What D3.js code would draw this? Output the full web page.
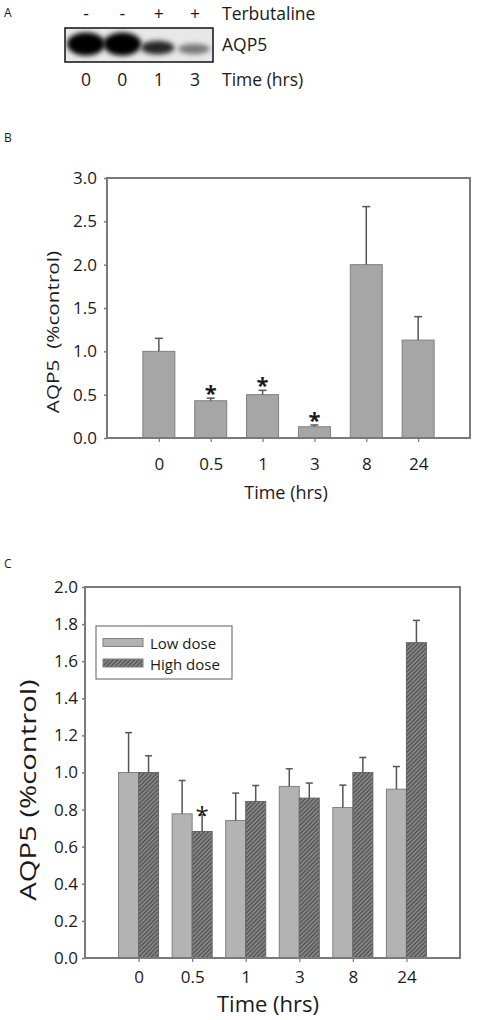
<!DOCTYPE html>
<html><head><meta charset="utf-8">
<script src="https://cdn.jsdelivr.net/npm/d3@7"></script>
<style>body{margin:0;background:#fff;} svg{display:block;font-family:"Open Sans",sans-serif;}</style>
</head><body><svg id="c" width="478" height="1020"></svg>
<script>
// ---- data ----
const blotLanes = ["-", "-", "+", "+"];
const blotTimes = ["0", "0", "1", "3"];
const blotIntensity = [1.0, 0.97, 0.8, 0.4];
const blotBandHeight = [1.0, 1.0, 0.6, 0.45];

const categoriesB = ["0", "0.5", "1", "3", "8", "24"];
const valuesB = [1.0, 0.43, 0.50, 0.13, 2.0, 1.13];
const errorsB = [0.15, 0.03, 0.05, 0.02, 0.67, 0.27];
const starsB = [false, true, true, true, false, false];
const ticksB = [0, 0.5, 1.0, 1.5, 2.0, 2.5, 3.0];

const categoriesC = ["0", "0.5", "1", "3", "8", "24"];
const lowDose = [1.0, 0.777, 0.741, 0.925, 0.811, 0.91];
const lowErr = [0.215, 0.18, 0.148, 0.095, 0.121, 0.122];
const highDose = [1.0, 0.682, 0.844, 0.862, 1.0, 1.70];
const highErr = [0.09, 0.09, 0.086, 0.081, 0.081, 0.12];
const starsC = [false, true, false, false, false, false];
const seriesC = ["Low dose", "High dose"];
const ticksC = [0, 0.2, 0.4, 0.6, 0.8, 1.0, 1.2, 1.4, 1.6, 1.8, 2.0];

const svg = d3.select("#c");
const axisCol = "#7a7a7a";
const textCol = "#1a1a1a";
const defs = svg.append("defs");
defs.append("filter").attr("id","blur").attr("x","-50%").attr("y","-50%").attr("width","200%").attr("height","200%")
  .append("feGaussianBlur").attr("stdDeviation", 2.6);
const pat = defs.append("pattern").attr("id","hatch").attr("patternUnits","userSpaceOnUse")
  .attr("width",3).attr("height",3).attr("patternTransform","rotate(45)");
pat.append("rect").attr("width",3).attr("height",3).attr("fill","#8f8f8f");
pat.append("rect").attr("width",1.4).attr("height",3).attr("fill","#4d4d4d");

// ---- Panel A ----
svg.append("text").attr("x",4).attr("y",17).attr("font-size",12).attr("fill",textCol).text("A");
const laneX = d3.scalePoint().domain(d3.range(4)).range([86, 195]);
svg.selectAll(".sign").data(blotLanes).join("text")
  .attr("x",(d,i)=>laneX(i)).attr("y",20).attr("text-anchor","middle").attr("font-size",17.5).attr("fill",textCol).text(d=>d);
svg.append("text").attr("x",222).attr("y",20).attr("font-size",17.5).attr("fill",textCol).text("Terbutaline");
svg.append("rect").attr("x",65).attr("y",28).attr("width",148).attr("height",34)
  .attr("fill","#e8e8e8").attr("stroke","#111").attr("stroke-width",1.5);
const blotClip = defs.append("clipPath").attr("id","blotclip");
blotClip.append("rect").attr("x",66).attr("y",29).attr("width",146).attr("height",32);
const bands = svg.append("g").attr("clip-path","url(#blotclip)");
bands.selectAll("ellipse").data(blotIntensity).join("ellipse")
  .attr("cx",(d,i)=>laneX(i)+(i>1?-1:0))
  .attr("cy",(d,i)=>44 + (1-blotBandHeight[i])*9)
  .attr("rx",(d,i)=>19*(0.7+0.3*blotBandHeight[i]))
  .attr("ry",(d,i)=>11.5*blotBandHeight[i])
  .attr("fill",d=>d3.interpolateGreys(0.35+0.65*d))
  .attr("filter","url(#blur)");
svg.append("text").attr("x",222).attr("y",51).attr("font-size",17.5).attr("fill",textCol).text("AQP5");
svg.selectAll(".tm").data(blotTimes).join("text")
  .attr("x",(d,i)=>laneX(i)).attr("y",86).attr("text-anchor","middle").attr("font-size",17.5).attr("fill",textCol).text(d=>d);
svg.append("text").attr("x",222).attr("y",86).attr("font-size",17.5).attr("fill",textCol).text("Time (hrs)");

// ---- generic panel drawer ----
function panel(o){
  const g = svg.append("g");
  const y = d3.scaleLinear().domain(o.yDomain).range([o.y1, o.y0]);
  const step = (o.x1 - o.x0) / (o.cats.length + 1);
  const x = d3.scalePoint().domain(o.cats).range([o.x0 + step, o.x1 - step]);
  g.append("g").attr("class","bars");
  g.append("path").attr("d",`M${o.x0},${o.y1}V${o.y0}H${o.x1}V${o.y1}Z`)
    .attr("fill","none").attr("stroke",axisCol).attr("stroke-width",2);
  const ya = g.append("g").attr("transform",`translate(${o.x0},0)`)
    .call(d3.axisLeft(y).tickValues(o.ticks).tickFormat(d3.format(".1f")).tickSize(3).tickPadding(o.yPad));
  ya.select(".domain").remove();
  ya.selectAll("line").attr("stroke",axisCol).attr("stroke-width",1.5);
  ya.selectAll("text").attr("font-size",o.tickFont).attr("fill",textCol).attr("font-family","Open Sans");
  const xa = g.append("g").attr("transform",`translate(0,${o.y1})`)
    .call(d3.axisBottom(x).tickSize(4).tickPadding(o.xPad));
  xa.select(".domain").remove();
  xa.selectAll("line").attr("stroke",axisCol).attr("stroke-width",1.2);
  xa.selectAll("text").attr("font-size",o.tickFont).attr("fill",textCol).attr("font-family","Open Sans");
  g.append("text").attr("transform",`translate(${o.yLabX},${o.yLabY}) rotate(-90) scale(${o.yLabStretch},1)`)
    .attr("text-anchor","middle").attr("dominant-baseline","central").attr("font-size",o.yLabFont).attr("fill",textCol)
    .attr("xml:space","preserve").text(o.yLabel);
  g.append("text").attr("x",o.xLabX).attr("y",o.xLabY).attr("text-anchor","middle")
    .attr("font-size",o.xLabFont).attr("fill",textCol).text("Time (hrs)");
  return {g, bars:g.select(".bars"), x, y};
}

function errBars(g, xs, vals, errs, y, cap){
  g.selectAll(null).data(vals).join("line")
    .attr("x1",(d,i)=>xs(i)).attr("x2",(d,i)=>xs(i))
    .attr("y1",d=>y(d)).attr("y2",(d,i)=>y(d+errs[i]))
    .attr("stroke","#555").attr("stroke-width",1.5);
  g.selectAll(null).data(vals).join("line")
    .attr("x1",(d,i)=>xs(i)-cap).attr("x2",(d,i)=>xs(i)+cap)
    .attr("y1",(d,i)=>y(d+errs[i])).attr("y2",(d,i)=>y(d+errs[i]))
    .attr("stroke","#555").attr("stroke-width",1.5);
}

// ---- Panel B ----
svg.append("text").attr("x",4).attr("y",142).attr("font-size",12).attr("fill",textCol).text("B");
const B = panel({cats:categoriesB, yDomain:[0,3], ticks:ticksB, x0:107, x1:470, y0:178, y1:438,
  tickFont:17, xPad:16, yPad:7, yLabel:"AQP5  (%control)", yLabX:53, yLabY:332, yLabFont:17, yLabStretch:1.22,
  xLabX:286, xLabY:499, xLabFont:18});
const bwB = 32;
B.bars.selectAll("rect").data(valuesB).join("rect")
  .attr("x",(d,i)=>B.x(categoriesB[i])-bwB/2).attr("width",bwB)
  .attr("y",d=>B.y(d)).attr("height",d=>B.y(0)-B.y(d))
  .attr("fill","#a6a6a6").attr("stroke","#808080").attr("stroke-width",1);
errBars(B.g, i=>B.x(categoriesB[i]), valuesB, errorsB, B.y, 4);
B.g.selectAll(".st").data(valuesB.map((v,i)=>({v,i})).filter(d=>starsB[d.i])).join("text")
  .attr("x",d=>B.x(categoriesB[d.i])).attr("y",d=>B.y(d.v+errorsB[d.i])+3)
  .attr("text-anchor","middle").attr("font-size",22).attr("font-weight","bold").attr("fill",textCol).text("*");

// ---- Panel C ----
svg.append("text").attr("x",4).attr("y",568).attr("font-size",12).attr("fill",textCol).text("C");
const C = panel({cats:categoriesC, yDomain:[0,2], ticks:ticksC, x0:85, x1:460, y0:587, y1:958,
  tickFont:17, xPad:9, yPad:4, yLabel:"AQP5 (%control)", yLabX:28, yLabY:790, yLabFont:22, yLabStretch:1.33,
  xLabX:268, xLabY:1012, xLabFont:22});
const bwC = 20;
C.bars.selectAll(".lo").data(lowDose).join("rect").attr("class","lo")
  .attr("x",(d,i)=>C.x(categoriesC[i])-bwC).attr("width",bwC)
  .attr("y",d=>C.y(d)).attr("height",d=>C.y(0)-C.y(d))
  .attr("fill","#b3b3b3").attr("stroke","#808080").attr("stroke-width",1);
C.bars.selectAll(".hi").data(highDose).join("rect").attr("class","hi")
  .attr("x",(d,i)=>C.x(categoriesC[i])).attr("width",bwC)
  .attr("y",d=>C.y(d)).attr("height",d=>C.y(0)-C.y(d))
  .attr("fill","url(#hatch)").attr("stroke","#666").attr("stroke-width",1);
errBars(C.g, i=>C.x(categoriesC[i])-bwC/2, lowDose, lowErr, C.y, 3.5);
errBars(C.g, i=>C.x(categoriesC[i])+bwC/2, highDose, highErr, C.y, 3.5);
C.g.selectAll(".st").data(highDose.map((v,i)=>({v,i})).filter(d=>starsC[d.i])).join("text")
  .attr("x",d=>C.x(categoriesC[d.i])+bwC/2).attr("y",d=>C.y(d.v+highErr[d.i])+9)
  .attr("text-anchor","middle").attr("font-size",24).attr("fill",textCol).text("*");
// legend
const lg = C.g.append("g");
lg.append("rect").attr("x",96).attr("y",626).attr("width",136).attr("height",53)
  .attr("fill","#fff").attr("stroke","#777").attr("stroke-width",1.2);
const legFill = ["#b3b3b3","url(#hatch)"];
lg.selectAll(".sw").data(seriesC).join("rect")
  .attr("x",103).attr("y",(d,i)=>638.5+i*20.5).attr("width",40).attr("height",8)
  .attr("fill",(d,i)=>legFill[i]).attr("stroke","#808080").attr("stroke-width",1);
lg.selectAll(".lt").data(seriesC).join("text")
  .attr("x",150).attr("y",(d,i)=>643+i*20.5).attr("dominant-baseline","central")
  .attr("font-size",15).attr("fill",textCol).text(d=>d);
</script></body></html>
